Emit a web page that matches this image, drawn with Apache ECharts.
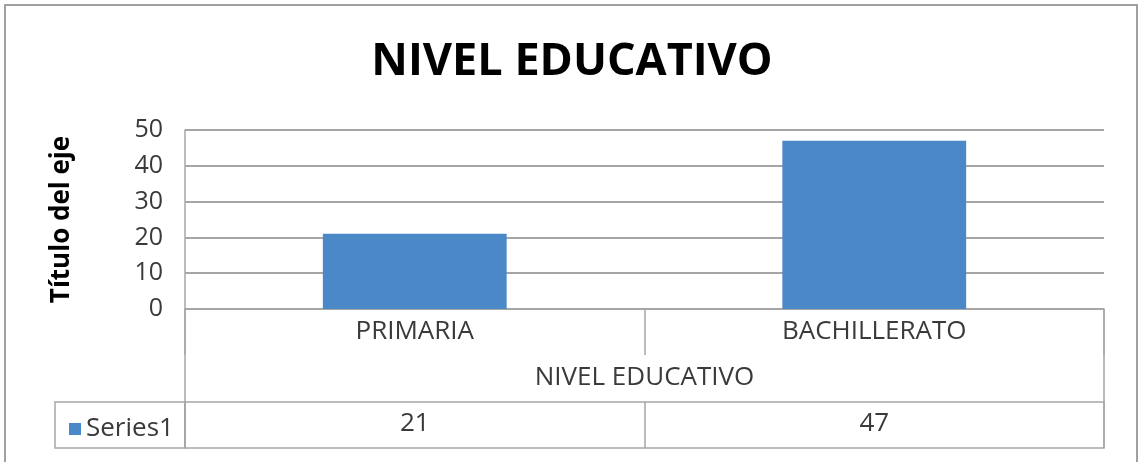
<!DOCTYPE html>
<html>
<head>
<meta charset="utf-8">
<script src="https://cdn.jsdelivr.net/npm/echarts@6/dist/echarts.min.js"></script>
<style>
  html, body { margin: 0; padding: 0; background: #fff; }
  #chart { width: 1144px; height: 462px; }
</style>
</head>
<body>
<div id="chart"></div>
<script>
// datos del gráfico
const categorias = ['PRIMARIA', 'BACHILLERATO']
const valores = [21, 47]
const nombreSerie = 'Series1'
const titulo = 'NIVEL EDUCATIVO'
const tituloEjeX = 'NIVEL EDUCATIVO'
const tituloEjeY = 'Título del eje'

const fuente = '"Open Sans", "Noto Sans", sans-serif'
const gris = '#a6a6a6'
const texto = '#3a3a3a'
const azul = '#4a88c8'

const myChart = echarts.init(document.getElementById('chart'))

const option = {
  animation: false,
  backgroundColor: '#fff',
  textStyle: { fontFamily: fuente },
  title: {
    text: titulo,
    left: 'center',
    top: 35,
    textStyle: { fontFamily: fuente, fontSize: 45, fontWeight: 'bold', color: '#000' }
  },
  legend: {
    left: 64,
    top: 411,
    icon: 'rect',
    itemWidth: 12,
    itemHeight: 12,
    textStyle: { fontFamily: fuente, fontSize: 26, color: texto },
    data: [nombreSerie]
  },
  grid: [
    { left: 185, right: 40, top: 130, bottom: 153 },
    { left: 185, right: 40, top: 402, height: 46, show: true, borderColor: gris, borderWidth: 1.5 }
  ],
  xAxis: [
    {
      type: 'category',
      data: categorias,
      gridIndex: 0,
      axisLine: { lineStyle: { color: gris, width: 1.5 } },
      axisTick: { show: true, length: 46, alignWithLabel: false, lineStyle: { color: gris, width: 1.5 } },
      axisLabel: { fontSize: 26, color: texto, margin: 10 },
      name: tituloEjeX,
      nameLocation: 'middle',
      nameGap: 56,
      nameTextStyle: { fontSize: 26, color: texto }
    },
    {
      type: 'category',
      data: valores.map(String),
      gridIndex: 1,
      axisLine: { show: false },
      axisTick: { show: false },
      splitLine: { show: true, lineStyle: { color: gris, width: 1.5 } },
      axisLabel: { inside: true, verticalAlign: 'middle', margin: 24, fontSize: 26, color: texto }
    }
  ],
  yAxis: [
    {
      type: 'value',
      gridIndex: 0,
      min: 0,
      max: 50,
      interval: 10,
      axisLine: { show: true, lineStyle: { color: gris, width: 1.5 } },
      axisTick: { show: false },
      splitLine: { lineStyle: { color: gris, width: 2 } },
      axisLabel: { fontSize: 25, color: texto, margin: 22 },
      name: tituloEjeY,
      nameLocation: 'middle',
      nameGap: 110,
      nameTextStyle: { fontSize: 26, fontWeight: 'bold', color: '#000' }
    },
    { type: 'value', gridIndex: 1, show: false }
  ],
  series: [
    {
      name: nombreSerie,
      type: 'bar',
      xAxisIndex: 0,
      yAxisIndex: 0,
      data: valores,
      barWidth: '40%',
      itemStyle: { color: azul }
    }
  ],
  graphic: [
    // marco exterior
    { type: 'rect', shape: { x: 5, y: 5, width: 1132, height: 470 }, style: { fill: 'none', stroke: '#a0a0a0', lineWidth: 2 }, silent: true },
    // celda de la leyenda
    { type: 'rect', shape: { x: 55, y: 402, width: 130, height: 46 }, style: { fill: 'none', stroke: gris, lineWidth: 1.5 }, silent: true },
    // lados de la tabla
    { type: 'line', shape: { x1: 185, y1: 309, x2: 185, y2: 402 }, style: { stroke: gris, lineWidth: 1.5 }, silent: true },
    { type: 'line', shape: { x1: 1104, y1: 309, x2: 1104, y2: 402 }, style: { stroke: gris, lineWidth: 1.5 }, silent: true }
  ]
}

myChart.setOption(option)
</script>
</body>
</html>
